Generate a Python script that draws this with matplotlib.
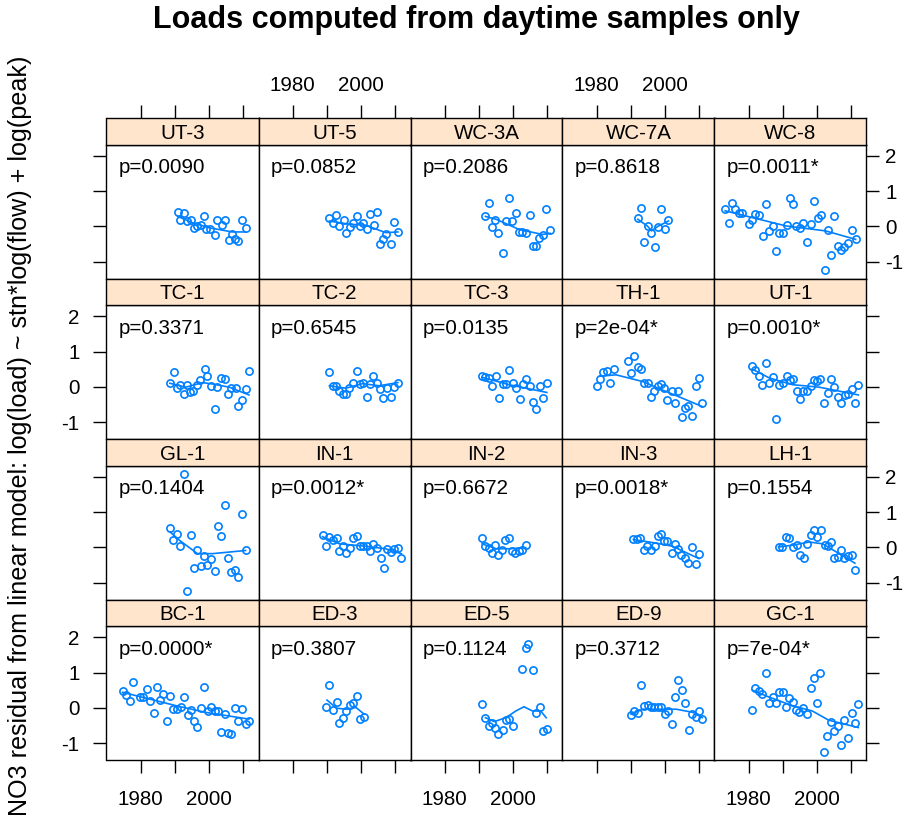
import matplotlib
matplotlib.use("Agg")
import matplotlib.pyplot as plt

plt.rcParams['font.family'] = ['Liberation Sans', 'DejaVu Sans']

# ---------------- data ----------------
sites = ["UT-3", "UT-5", "WC-3A", "WC-7A", "WC-8",
         "TC-1", "TC-2", "TC-3", "TH-1", "UT-1",
         "GL-1", "IN-1", "IN-2", "IN-3", "LH-1",
         "BC-1", "ED-3", "ED-5", "ED-9", "GC-1"]
p_labels = ["p=0.0090", "p=0.0852", "p=0.2086", "p=0.8618", "p=0.0011*",
            "p=0.3371", "p=0.6545", "p=0.0135", "p=2e-04*", "p=0.0010*",
            "p=0.1404", "p=0.0012*", "p=0.6672", "p=0.0018*", "p=0.1554",
            "p=0.0000*", "p=0.3807", "p=0.1124", "p=0.3712", "p=7e-04*"]

ut3_x = [1990.9, 1992.6, 1991.7, 1993.5, 1994.8, 1995.7, 1996.7, 1997.7, 1998.7, 1999.3, 2000.4,
         2001.8, 2002.5, 2003.8, 2004.8, 2005.8, 2006.7, 2007.7, 2008.7, 2009.8, 2010.8]
ut3_y = [0.42, 0.37, 0.17, 0.15, 0.18, -0.06, 0.01, 0.04, 0.28, -0.09, -0.09,
         -0.26, 0.17, 0.03, 0.17, -0.40, -0.21, -0.35, -0.42, 0.18, -0.06]
ut3_fx = [1990.9, 1995.3, 2000.1, 2006.9, 2010.8]
ut3_fy = [0.28, 0.10, -0.04, -0.16, -0.16]

ut5_x = [1990.8, 1992.7, 1991.8, 1993.7, 1995.0, 1995.8, 1996.8, 1997.8, 1998.9, 1999.7, 2000.8,
         2001.8, 2002.7, 2004.9, 2003.9, 2005.7, 2006.5, 2007.3, 2008.9, 2009.8, 2010.9]
ut5_y = [0.23, 0.33, 0.08, 0.01, 0.17, -0.20, -0.02, 0.10, 0.28, 0.01, 0.10,
         -0.07, 0.36, 0.41, 0.04, -0.50, -0.37, -0.21, -0.51, 0.13, -0.15]
ut5_fx = [1990.8, 1996.6, 2001.5, 2007.3, 2010.9]
ut5_fy = [0.15, 0.06, 0.03, -0.18, -0.16]

wc3a_x = [1992.0, 1992.9, 1993.9, 1994.9, 1995.8, 1998.0, 1998.9, 1999.9, 2000.9, 1997.0,
          2001.9, 2002.8, 2003.8, 2005.0, 2005.9, 2006.7, 2007.7, 2008.9, 2009.9, 2011.0]
wc3a_y = [0.28, 0.66, -0.02, 0.18, -0.20, 0.15, 0.80, 0.15, 0.39, -0.75,
          -0.15, -0.15, -0.18, 0.33, -0.56, -0.56, -0.34, -0.25, 0.49, -0.10]
wc3a_fx = [1992.0, 1995.1, 2001.9, 2008.7, 2011.0]
wc3a_fy = [0.28, 0.20, -0.09, -0.23, -0.20]

wc7a_x = [1992.1, 1993.1, 1995.1, 1996.0, 1998.0, 1999.0, 2000.0, 2001.1, 1994.0, 1997.0]
wc7a_y = [0.23, 0.51, 0.01, -0.18, -0.01, 0.49, -0.09, 0.18, -0.44, -0.59]
wc7a_fx = [1992.1, 1995.0, 1996.1, 1998.0, 2001.1]
wc7a_fy = [0.20, 0.00, -0.13, 0.00, 0.15]

wc8_x = [1973.1, 1974.3, 1975.1, 1976.1, 1977.1, 1978.1, 1980.1, 1981.1, 1982.0, 1983.2,
         1984.2, 1985.2, 1986.1, 1987.1, 1988.1, 1989.0, 1990.2, 1991.2, 1992.1, 1993.1,
         1993.9, 1995.1, 1996.1, 1997.2, 1998.3, 1999.2, 2000.3, 2001.3, 2002.3, 2003.2,
         2004.2, 2005.2, 2006.1, 2007.1, 2008.1, 2009.3, 2010.2, 2011.4]
wc8_y = [0.49, 0.10, 0.66, 0.49, 0.39, 0.37, 0.06, 0.17, 0.36, 0.31,
         -0.28, 0.64, -0.13, 0.01, -0.70, -0.18, -0.18, 0.03, 0.80, 0.63,
         0.01, -0.04, 0.10, -0.44, 0.06, 0.73, 0.23, 0.31, -1.25, -0.11,
         -0.80, 0.28, -0.56, -0.68, -0.58, -0.47, -0.10, -0.35]
wc8_fx = [1973.1, 1991.0, 2002.6, 2011.4]
wc8_fy = [0.44, 0.01, -0.13, -0.37]

tc1_x = [1988.6, 1989.7, 1990.7, 1991.7, 1992.6, 1993.6, 1994.6, 1995.5, 1996.5, 1997.5,
         1998.8, 1999.6, 2000.8, 2001.8, 2002.5, 2003.7, 2004.7, 2005.7, 2006.6, 2007.9,
         2008.7, 2009.8, 2010.8, 2011.8]
tc1_y = [0.10, 0.42, -0.04, 0.06, -0.21, 0.04, -0.15, -0.11, 0.04, 0.20,
         0.51, 0.30, 0.03, -0.64, -0.01, 0.25, 0.22, -0.20, -0.04, -0.04,
         -0.53, -0.37, -0.07, 0.44]
tc1_fx = [1988.6, 1993.3, 1998.2, 2001.1, 2006.0, 2011.8]
tc1_fy = [0.10, -0.01, 0.12, 0.08, -0.01, -0.23]

tc2_x = [1990.8, 1991.8, 1992.7, 1993.7, 1994.7, 1995.6, 1996.6, 1997.8, 1998.9, 1999.8,
         2000.8, 2001.8, 2002.7, 2003.7, 2004.7, 2005.7, 2006.6, 2007.6, 2008.8, 2009.7, 2010.9]
tc2_y = [0.42, 0.03, 0.03, -0.13, -0.21, -0.21, -0.04, 0.10, 0.46, 0.09,
         0.10, -0.28, 0.09, 0.31, 0.10, -0.06, -0.32, -0.04, -0.28, -0.01, 0.10]
tc2_fx = [1990.8, 1995.6, 2000.5, 2005.4, 2010.9]
tc2_fy = [0.03, -0.04, 0.09, 0.03, 0.12]

tc3_x = [1991.0, 1992.0, 1992.9, 1993.9, 1995.1, 1996.0, 1997.0, 1998.0, 1998.9, 2000.1,
         2000.9, 2002.1, 2003.0, 2003.8, 2005.0, 2005.9, 2006.9, 2008.0, 2009.0, 2010.0]
tc3_y = [0.31, 0.27, 0.25, 0.01, 0.30, -0.32, 0.08, 0.08, 0.47, 0.10,
         -0.04, -0.35, 0.08, 0.22, 0.03, -0.42, -0.63, 0.03, -0.32, 0.12]
tc3_fx = [1991.0, 1998.9, 2010.0]
tc3_fy = [0.27, 0.06, -0.16]

th1_x = [1980.0, 1980.9, 1981.8, 1983.0, 1984.0, 1985.1, 1989.1, 1990.1, 1991.1, 1992.1,
         1993.1, 1994.0, 1995.0, 1995.9, 1996.9, 1997.9, 1998.9, 1999.8, 2000.8, 2002.0,
         2002.9, 2004.0, 2005.0, 2005.9, 2006.9, 2008.1, 2009.1, 2010.0, 2011.0]
th1_y = [0.01, 0.22, 0.41, 0.44, 0.10, 0.50, 0.72, 0.39, 0.87, 0.55,
         0.50, 0.10, 0.10, -0.28, -0.11, 0.03, 0.08, -0.02, -0.37, -0.11,
         -0.47, -0.11, -0.85, -0.61, -0.54, -0.83, 0.01, 0.25, -0.47]
th1_fx = [1980.9, 1985.7, 1993.5, 1999.3, 2005.1, 2011.0]
th1_fy = [0.30, 0.34, 0.15, -0.09, -0.32, -0.56]

ut1_x = [1981.1, 1982.0, 1983.0, 1984.0, 1985.2, 1986.1, 1987.1, 1988.1, 1989.0, 1990.0,
         1991.2, 1992.1, 1993.1, 1994.1, 1995.1, 1996.0, 1997.2, 1998.2, 1999.1, 2000.1,
         2001.1, 2002.1, 2003.2, 2004.2, 2005.2, 2006.1, 2007.1, 2008.3, 2009.3, 2010.2,
         2011.2, 2012.2]
ut1_y = [0.60, 0.47, 0.30, 0.06, 0.68, 0.10, 0.27, -0.90, 0.06, 0.10,
         0.32, 0.20, 0.22, -0.11, -0.35, -0.11, -0.11, 0.03, 0.20, 0.17,
         0.22, -0.47, -0.18, 0.23, -0.01, -0.30, -0.47, -0.23, -0.21, -0.07,
         -0.47, 0.05]
ut1_fx = [1981.1, 1986.1, 1992.9, 2000.7, 2012.2]
ut1_fy = [0.50, 0.25, 0.06, -0.01, -0.23]

gl1_x = [1992.8, 1988.6, 1989.6, 1990.7, 1991.7, 1993.6, 1994.8, 1995.7, 1996.7, 1997.7,
         1998.7, 1999.6, 2000.8, 2001.8, 2002.7, 2003.7, 2004.7, 2005.7, 2006.6, 2007.6,
         2008.7, 2009.8, 2010.8]
gl1_y = [2.08, 0.56, 0.22, 0.37, 0.04, -1.25, 0.34, -0.58, -0.07, -0.54,
         -0.26, -0.51, -0.32, -0.66, 0.60, 0.32, 1.19, -0.30, -0.70, -0.63,
         -0.85, 0.94, -0.07]
gl1_fx = [1988.6, 1991.4, 1996.7, 2001.1, 2010.8]
gl1_fy = [0.44, 0.20, -0.18, -0.18, -0.09]

in1_x = [1988.8, 1989.8, 1990.8, 1991.8, 1992.9, 1993.7, 1994.7, 1995.8, 1996.8, 1997.8,
         1998.8, 1999.7, 2000.8, 2001.8, 2002.7, 2003.7, 2004.7, 2005.9, 2006.8, 2007.8,
         2009.0, 2009.9, 2010.9, 2011.9]
in1_y = [0.36, 0.03, 0.28, 0.20, 0.25, -0.11, 0.03, -0.15, -0.01, 0.25,
         0.32, 0.03, 0.03, 0.03, -0.11, 0.10, -0.01, -0.30, -0.58, -0.06,
         -0.13, -0.06, -0.01, -0.30]
in1_fx = [1988.8, 1993.7, 2001.5, 2007.3, 2011.9]
in1_fy = [0.30, 0.10, 0.03, -0.04, -0.18]

in2_x = [1991.0, 1992.0, 1992.9, 1993.9, 1994.9, 1995.8, 1996.8, 1997.8, 1998.9, 1999.7,
         2000.7, 2001.7, 2002.6, 2003.8]
in2_y = [0.27, 0.03, -0.01, -0.15, 0.06, -0.23, -0.09, 0.20, 0.25, -0.11,
         -0.15, -0.11, -0.09, 0.06]
in2_fx = [1991.0, 1995.1, 1999.0, 2003.8]
in2_fy = [0.10, -0.04, -0.04, -0.01]

in3_x = [1990.8, 1991.8, 1992.8, 1993.8, 1994.8, 1996.0, 1997.2, 1997.9, 1998.9, 1999.8,
         2000.8, 2002.0, 2002.9, 2003.9, 2004.9, 2005.9, 2006.9, 2007.9, 2009.1, 2010.0]
in3_y = [0.23, 0.23, 0.25, -0.07, 0.04, -0.07, 0.04, 0.32, 0.39, 0.18,
         0.18, -0.15, 0.08, -0.04, -0.23, -0.30, -0.45, 0.01, -0.47, -0.18]
in3_fx = [1990.8, 1997.4, 2002.3, 2010.0]
in3_fy = [0.22, 0.12, 0.03, -0.32]

lh1_x = [1988.8, 1989.8, 1991.0, 1992.0, 1993.1, 1994.1, 1995.1, 1996.2, 1997.2, 1998.2,
         1999.1, 2000.1, 2001.3, 2002.3, 2003.2, 2004.2, 2005.2, 2006.1, 2007.1, 2008.1,
         2009.3, 2010.2, 2011.2]
lh1_y = [0.01, 0.01, 0.28, 0.25, 0.01, 0.06, -0.21, -0.30, 0.10, 0.34,
         0.49, 0.28, 0.50, 0.06, 0.03, 0.15, -0.30, -0.28, -0.09, -0.30,
         -0.26, -0.23, -0.63]
lh1_fx = [1988.8, 1992.9, 1997.8, 2001.7, 2007.5, 2011.2]
lh1_fy = [0.01, 0.06, 0.15, 0.10, -0.23, -0.45]

bc1_x = [1974.7, 1975.8, 1976.8, 1977.8, 1979.7, 1980.7, 1981.8, 1982.8, 1983.8, 1984.8,
         1985.7, 1986.7, 1987.7, 1988.6, 1989.6, 1990.6, 1991.9, 1992.8, 1993.8, 1994.8,
         1995.7, 1996.7, 1997.7, 1998.7, 1999.8, 2000.8, 2001.8, 2002.7, 2003.7, 2004.7,
         2005.7, 2006.6, 2007.6, 2008.6, 2009.8, 2010.8, 2011.8]
bc1_y = [0.47, 0.37, 0.18, 0.72, 0.30, 0.31, 0.53, 0.18, -0.15, 0.58,
         0.22, 0.39, -0.37, 0.34, -0.04, -0.04, 0.03, 0.30, -0.20, -0.06,
         -0.37, -0.53, -0.01, 0.58, -0.10, 0.01, -0.10, -0.09, -0.68, -0.18,
         -0.72, -0.75, -0.01, -0.37, -0.04, -0.45, -0.37]
bc1_fx = [1974.7, 1982.6, 1990.4, 1999.1, 2011.8]
bc1_fy = [0.44, 0.25, 0.06, -0.13, -0.32]

ed3_x = [1989.8, 1990.8, 1991.8, 1992.9, 1993.7, 1994.9, 1995.8, 1996.8, 1997.8, 1998.8,
         1999.8, 2001.0]
ed3_y = [0.03, 0.66, -0.06, 0.17, -0.42, -0.30, -0.10, 0.09, 0.15, 0.34,
         -0.32, -0.25]
ed3_fx = [1990.1, 1992.9, 1995.7, 1998.6, 2001.0]
ed3_fy = [0.22, -0.01, -0.04, 0.01, -0.18]

ed5_x = [1991.0, 1992.0, 1992.9, 1993.9, 1994.9, 1995.8, 1997.0, 1998.0, 1998.9, 2000.1,
         2002.8, 2003.8, 2004.6, 2005.9, 2006.9, 2007.9, 2008.9, 2010.0]
ed5_y = [0.10, -0.30, -0.51, -0.44, -0.58, -0.73, -0.63, -0.34, -0.32, -0.51,
         1.10, 1.70, 1.82, 1.08, -0.15, 0.01, -0.66, -0.59]
ed5_fx = [1992.0, 1994.6, 1998.0, 2000.9, 2003.3, 2005.8, 2008.2, 2009.8]
ed5_fy = [-0.28, -0.39, -0.28, -0.09, 0.03, -0.09, -0.09, -0.28]

ed9_x = [1990.1, 1991.1, 1992.1, 1993.1, 1994.0, 1995.0, 1995.9, 1996.9, 1997.9, 1998.9,
         2000.0, 2001.0, 2002.1, 2003.1, 2004.0, 2005.0, 2005.9, 2007.1, 2008.1, 2009.1,
         2010.0, 2011.0]
ed9_y = [-0.21, -0.09, -0.15, 0.65, 0.06, 0.08, 0.01, 0.01, 0.01, 0.03,
         -0.18, -0.09, -0.45, 0.31, 0.80, 0.51, 0.15, -0.63, -0.18, -0.25,
         -0.09, -0.32]
ed9_fx = [1990.1, 1993.6, 1998.5, 2003.4, 2008.3, 2011.0]
ed9_fy = [-0.18, -0.04, -0.04, -0.04, -0.13, -0.28]

gc1_x = [1981.1, 1982.0, 1983.0, 1984.0, 1985.2, 1986.1, 1987.1, 1988.1, 1989.0, 1990.0,
         1991.0, 1992.0, 1992.9, 1993.9, 1994.9, 1996.0, 1997.2, 1998.2, 1999.1, 2000.1,
         2001.1, 2002.1, 2003.0, 2004.2, 2005.2, 2006.1, 2007.1, 2008.1, 2009.3, 2010.2,
         2011.2, 2012.2]
gc1_y = [-0.07, 0.56, 0.47, 0.39, 0.99, 0.13, 0.32, 0.13, 0.46, 0.46,
         0.01, 0.28, 0.17, -0.07, -0.11, -0.01, -0.18, 0.56, 0.85, 0.15,
         0.99, -1.25, -0.80, -0.39, -0.66, -0.51, -1.06, -0.35, -0.87, -0.15,
         -0.44, 0.12]
gc1_fx = [1981.1, 1986.1, 1992.9, 1998.7, 2003.5, 2012.2]
gc1_fy = [0.50, 0.30, 0.06, -0.09, -0.35, -0.56]

points = [(ut3_x, ut3_y), (ut5_x, ut5_y), (wc3a_x, wc3a_y), (wc7a_x, wc7a_y), (wc8_x, wc8_y),
          (tc1_x, tc1_y), (tc2_x, tc2_y), (tc3_x, tc3_y), (th1_x, th1_y), (ut1_x, ut1_y),
          (gl1_x, gl1_y), (in1_x, in1_y), (in2_x, in2_y), (in3_x, in3_y), (lh1_x, lh1_y),
          (bc1_x, bc1_y), (ed3_x, ed3_y), (ed5_x, ed5_y), (ed9_x, ed9_y), (gc1_x, gc1_y)]
fits = [(ut3_fx, ut3_fy), (ut5_fx, ut5_fy), (wc3a_fx, wc3a_fy), (wc7a_fx, wc7a_fy), (wc8_fx, wc8_fy),
        (tc1_fx, tc1_fy), (tc2_fx, tc2_fy), (tc3_fx, tc3_fy), (th1_fx, th1_fy), (ut1_fx, ut1_fy),
        (gl1_fx, gl1_fy), (in1_fx, in1_fy), (in2_fx, in2_fy), (in3_fx, in3_fy), (lh1_fx, lh1_fy),
        (bc1_fx, bc1_fy), (ed3_fx, ed3_fy), (ed5_fx, ed5_fy), (ed9_fx, ed9_fy), (gc1_fx, gc1_fy)]

x_ticks = [1980, 1990, 2000, 2010]
x_ticklabels = ["1980", "", "2000", ""]
y_ticks = [-1, 0, 1, 2]
y_ticklabels = ["-1", "0", "1", "2"]

# ---------------- layout ----------------
W, H = 912, 826
fig = plt.figure(figsize=(W / 100, H / 100), dpi=100)

PT_COLOR = "#0080ff"
STRIP_COLOR = "#ffe5cc"
FS = 14.8
left0, colw = 106.5, 152.0
top0, rowh, striph = 118.0, 160.5, 26.5
xlim = (1970.0, 2014.6)
ylim = (-1.48, 2.32)
tick_len = 9.4


def fig_rect(x, y, w, h):
    return [x / W, 1 - (y + h) / H, w / W, h / H]


for i, site in enumerate(sites):
    r, c = divmod(i, 5)
    x = left0 + c * colw
    y = top0 + r * rowh
    ax = fig.add_axes(fig_rect(x, y + striph, colw, rowh - striph))
    sax = fig.add_axes(fig_rect(x, y, colw, striph), sharex=ax)

    px, py = points[i]
    fx, fy = fits[i]
    ax.plot(px, py, linestyle="none", marker="o", markersize=5.2, markerfacecolor="none",
            markeredgecolor=PT_COLOR, markeredgewidth=1.2)
    ax.plot(fx, fy, color=PT_COLOR, linewidth=1.2)
    ax.text(0.082, 0.787, p_labels[i], transform=ax.transAxes, fontsize=FS,
            ha="left", va="baseline", color="black")

    ax.set_xlim(*xlim)
    ax.set_ylim(*ylim)
    ax.set_xticks(x_ticks)
    ax.set_xticklabels(x_ticklabels)
    ax.set_yticks(y_ticks)
    ax.set_yticklabels(y_ticklabels)
    for sp in ax.spines.values():
        sp.set_linewidth(1.0)

    ax.tick_params(axis="y", direction="out", length=tick_len, width=1.0, labelsize=FS,
                   left=(c == 0), right=(c == 4),
                   labelleft=(c == 0 and r in (1, 3)), labelright=(c == 4 and r in (0, 2)),
                   pad=(10 if c == 0 else 4))
    ax.tick_params(axis="x", direction="out", length=tick_len, width=1.0, labelsize=FS,
                   bottom=(r == 3), labelbottom=(r == 3 and c in (0, 2, 4)),
                   top=False, labeltop=False, pad=12)

    sax.set_facecolor(STRIP_COLOR)
    sax.set_ylim(0, 1)
    sax.set_yticks([])
    for sp in sax.spines.values():
        sp.set_linewidth(1.0)
    sax.tick_params(axis="x", direction="out", length=tick_len, width=1.0, labelsize=FS,
                    bottom=False, labelbottom=False, top=(r == 0),
                    labeltop=(r == 0 and c in (1, 3)), pad=7)
    sax.text(0.5, 0.22, site, transform=sax.transAxes, fontsize=FS, ha="center", va="baseline")

fig.text(476 / W, 1 - 20 / H, "Loads computed from daytime samples only", fontsize=22,
         fontweight="bold", ha="center", va="center")
fig.text(20 / W, 1 - 436 / H,
         "NO3 residual from linear model: log(load) ~ stn*log(flow) + log(peak)",
         fontsize=18.1, rotation=90, ha="center", va="center")

fig.savefig("out.png", dpi=100)
